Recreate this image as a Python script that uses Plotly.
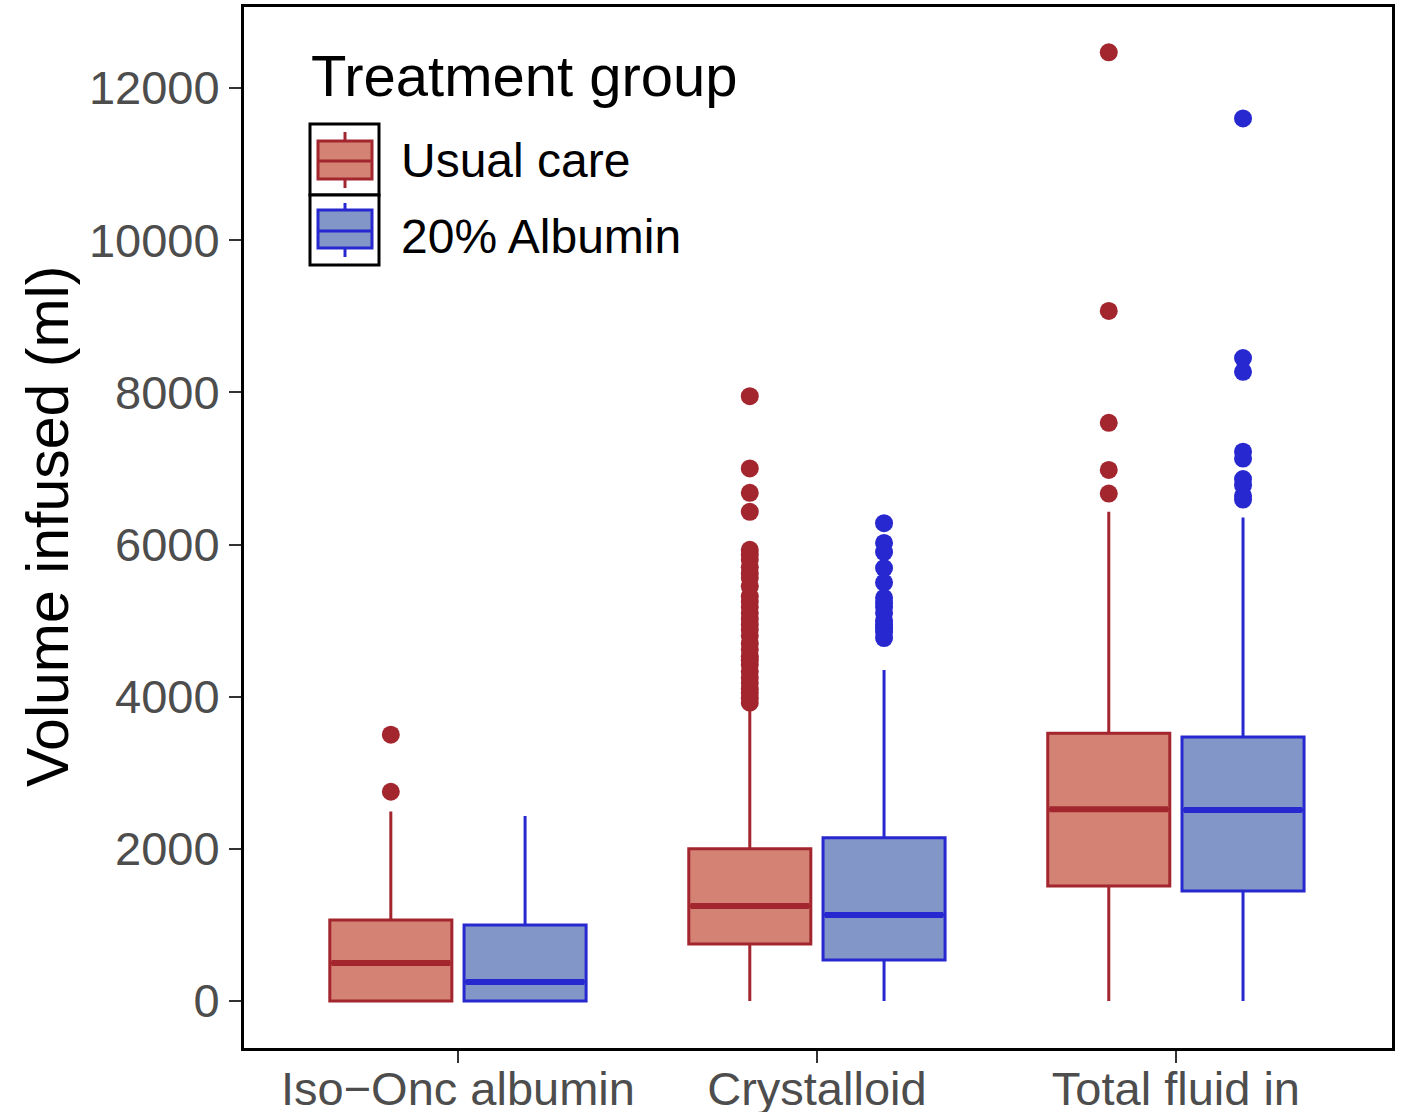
import plotly.graph_objects as go

# ---------------- data ----------------
categories = ["Iso\u2212Onc albumin", "Crystalloid", "Total fluid in"]
groups = ["Usual care", "20% Albumin"]

# summary statistics per category (Usual care)
uc_q1 = [0, 750, 1510]
uc_median = [500, 1250, 2520]
uc_q3 = [1065, 2000, 3520]
uc_low = [0, 0, 0]
uc_high = [2490, 3880, 6430]

# summary statistics per category (20% Albumin)
alb_q1 = [0, 540, 1445]
alb_median = [250, 1130, 2510]
alb_q3 = [1000, 2145, 3470]
alb_low = [0, 0, 0]
alb_high = [2430, 4350, 6355]

# outliers per category
uc_outliers = [
    [3500, 2750],
    [7950, 7000, 6680, 6430, 5930, 5870, 5800, 5700, 5620, 5560, 5450, 5320,
     5250, 5180, 5100, 5020, 4950, 4880, 4800, 4700, 4620, 4530, 4480, 4420,
     4330, 4250, 4180, 4100, 4050, 3980, 3920],
    [12470, 9070, 7600, 6980, 6670],
]
alb_outliers = [
    [],
    [6280, 6020, 5900, 5690, 5500, 5300, 5230, 5180, 5100, 5000, 4950, 4900,
     4850, 4770],
    [11600, 8450, 8270, 7220, 7130, 6860, 6780, 6640, 6590],
]

y_ticks = [0, 2000, 4000, 6000, 8000, 10000, 12000]

# ---------------- style ----------------
FONT = "Liberation Sans, Arial, Helvetica, sans-serif"
RED_LINE = "#A3262F"
RED_FILL = "#D38273"
BLUE_LINE = "#2828D0"
BLUE_FILL = "#8396C8"
DODGE = 0.187
BOX_W = 0.34

W, H = 1406, 1112
ML, MR, MT, MB = 244, 14, 7, 64
PW, PH = W - ML - MR, H - MT - MB


def px_x(p):
    return (p - ML) / PW


def px_y(p):
    return (H - MB - p) / PH


fig = go.Figure()

series = [
    (groups[0], -DODGE, uc_q1, uc_median, uc_q3, uc_low, uc_high, uc_outliers, RED_LINE, RED_FILL),
    (groups[1], +DODGE, alb_q1, alb_median, alb_q3, alb_low, alb_high, alb_outliers, BLUE_LINE, BLUE_FILL),
]

for name, off, q1, med, q3, lo, hi, outs, lc, fc in series:
    xs = [i + off for i in range(len(categories))]
    fig.add_trace(go.Box(
        name=name, legendgroup=name, showlegend=False,
        x=xs, q1=q1, median=med, q3=q3, lowerfence=lo, upperfence=hi,
        width=BOX_W, whiskerwidth=0, boxpoints=False,
        line=dict(color=lc, width=3), fillcolor=fc,
    ))
    # thicker median lines (ggplot style)
    mx, my = [], []
    for x, m in zip(xs, med):
        mx += [x - BOX_W / 2 + 0.005, x + BOX_W / 2 - 0.005, None]
        my += [m, m, None]
    fig.add_trace(go.Scatter(
        x=mx, y=my, mode="lines", line=dict(color=lc, width=6),
        showlegend=False, legendgroup=name, hoverinfo="skip",
    ))
    # outliers
    ox, oy = [], []
    for x, vals in zip(xs, outs):
        ox += [x] * len(vals)
        oy += vals
    fig.add_trace(go.Scatter(
        x=ox, y=oy, mode="markers",
        marker=dict(color=lc, size=18, line=dict(width=0)),
        showlegend=False, legendgroup=name,
    ))
    # legend entry (key graphic drawn below as shapes)
    fig.add_trace(go.Scatter(
        x=[None], y=[None], mode="markers", name=name, legendgroup=name,
        marker=dict(color="rgba(0,0,0,0)", size=1),
    ))

# legend key graphics (ggplot-style boxed keys)
shapes = []
keys = [
    (124, 195, 141, 161, 179, 132, 188, RED_LINE, RED_FILL),
    (195, 265, 210, 231, 248, 203, 257, BLUE_LINE, BLUE_FILL),
]
for top, bot, btop, bmed, bbot, wtop, wbot, lc, fc in keys:
    shapes.append(dict(type="rect", xref="paper", yref="paper",
                       x0=px_x(310), x1=px_x(379), y0=px_y(bot), y1=px_y(top),
                       line=dict(color="black", width=3), fillcolor="white", layer="above"))
    shapes.append(dict(type="line", xref="paper", yref="paper",
                       x0=px_x(345), x1=px_x(345), y0=px_y(wbot), y1=px_y(wtop),
                       line=dict(color=lc, width=3), layer="above"))
    shapes.append(dict(type="rect", xref="paper", yref="paper",
                       x0=px_x(318), x1=px_x(372), y0=px_y(bbot), y1=px_y(btop),
                       line=dict(color=lc, width=3), fillcolor=fc, layer="above"))
    shapes.append(dict(type="line", xref="paper", yref="paper",
                       x0=px_x(318), x1=px_x(372), y0=px_y(bmed), y1=px_y(bmed),
                       line=dict(color=lc, width=3), layer="above"))

fig.update_layout(
    width=W, height=H,
    margin=dict(l=ML, r=MR, t=MT, b=MB),
    paper_bgcolor="white", plot_bgcolor="white",
    font=dict(family=FONT, color="black"),
    showlegend=True,
    legend=dict(
        x=px_x(361), y=px_y(121), xanchor="left", yanchor="top",
        font=dict(size=48, color="black"),
        bgcolor="rgba(0,0,0,0)", itemclick=False,
    ),
    shapes=shapes,
    annotations=[
        dict(text="Volume infused (ml)", textangle=-90,
             xref="paper", yref="paper", x=px_x(48), y=px_y(526),
             xanchor="center", yanchor="middle", showarrow=False,
             font=dict(size=59, color="black", family=FONT)),
        dict(text="Treatment group",
             xref="paper", yref="paper", x=px_x(309), y=px_y(41),
             xanchor="left", yanchor="top", showarrow=False,
             font=dict(size=58, color="black", family=FONT)),
    ],
)

fig.update_xaxes(
    range=[-0.596, 2.602],
    tickmode="array", tickvals=list(range(len(categories))), ticktext=categories,
    tickfont=dict(size=47, color="#4D4D4D"),
    ticks="outside", ticklen=12, tickwidth=2, tickcolor="#333333",
    ticklabelstandoff=-14,
    showline=True, linecolor="black", linewidth=3, mirror=True,
    showgrid=False, zeroline=False, automargin=False,
)
fig.update_yaxes(
    range=[-618, 13065],
    tickmode="array", tickvals=y_ticks, ticktext=[str(v) for v in y_ticks],
    tickfont=dict(size=47, color="#4D4D4D"),
    ticks="outside", ticklen=12, tickwidth=2, tickcolor="#333333",
    showline=True, linecolor="black", linewidth=3, mirror=True,
    showgrid=False, zeroline=False, automargin=False,
)

fig.write_html("out.html")
